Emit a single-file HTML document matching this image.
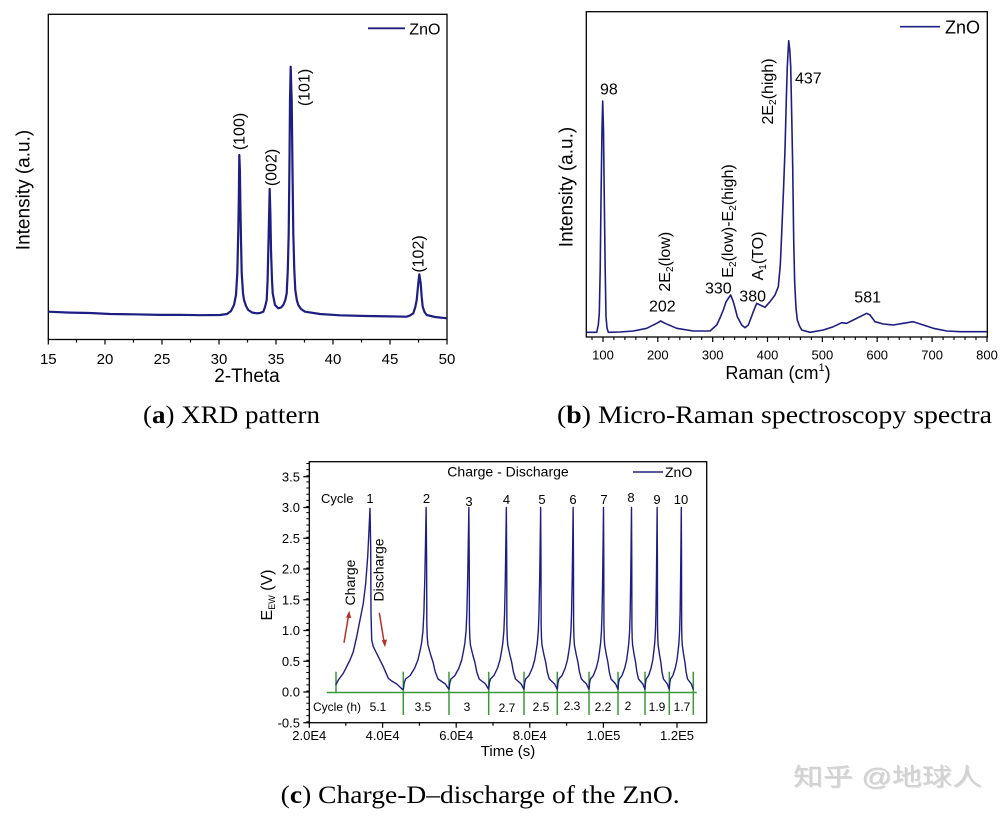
<!DOCTYPE html>
<html><head><meta charset="utf-8"><style>html,body{margin:0;padding:0;background:#fff}svg{display:block}</style></head>
<body>
<svg width="1008" height="818" viewBox="0 0 1008 818" xmlns="http://www.w3.org/2000/svg" font-family="'Liberation Sans', Arial, sans-serif" fill="#000">
<rect x="0" y="0" width="1008" height="818" fill="#fff"/>

<!-- ================= Panel A ================= -->
<rect x="48.3" y="14.3" width="398.7" height="325.2" fill="none" stroke="#000" stroke-width="1.3"/>
<path d="M48.3,339.5v5M105,339.5v5M162,339.5v5M219,339.5v5M276,339.5v5M333,339.5v5M390,339.5v5M447,339.5v5" stroke="#000" stroke-width="1.2"/>
<path d="M76.5,339.5v3M133.5,339.5v3M190.5,339.5v3M247.5,339.5v3M304.5,339.5v3M361.5,339.5v3M418.5,339.5v3" stroke="#000" stroke-width="1.2"/>
<g font-size="15" text-anchor="middle">
<text x="48.3" y="364">15</text><text x="105" y="364">20</text><text x="162" y="364">25</text><text x="219" y="364">30</text><text x="276" y="364">35</text><text x="333" y="364">40</text><text x="390" y="364">45</text><text x="447" y="364">50</text>
</g>
<text x="247" y="382" font-size="19" text-anchor="middle">2-Theta</text>
<text transform="translate(29.3,190) rotate(-90)" font-size="19" text-anchor="middle">Intensity (a.u.)</text>
<path d="M368,28.3H405" stroke="#202080" stroke-width="1.8"/>
<text x="409.3" y="34.3" font-size="16">ZnO</text>
<path fill="none" stroke="#1e1e82" stroke-width="2.2" stroke-linejoin="round" d="M48.3,311.7 L70,312.6 L90,313 L110,314 L133.3,314.3 L160,314.9 L180,314.8 L200,315.2 L220,315 L227,314 L231,311 L234,305 L236,295 L237.3,273 L238.3,230 L238.8,200 L239.3,155 L239.9,170 L240.3,200 L241,240 L241.7,273 L243,293 L244,300 L246,306 L248.3,310 L252,312.5 L256.7,313.3 L260,313 L263.3,311.7 L265,307 L266.7,300 L267.6,280 L268.3,250 L269.7,189 L270.4,215 L271,250 L272,280 L272.7,293.3 L275,305 L278.3,308.3 L281,307.5 L283.3,305 L285.3,300 L286.7,293.3 L287.8,270 L288.7,233.3 L289.5,160 L290,100 L290.7,66.7 L291.2,85 L291.7,100 L292.5,170 L293.3,233.3 L294.3,270 L295.3,290 L296.8,300 L298.3,305 L301,309 L305,311.7 L320,314 L340,315.3 L366.7,316 L390,316.4 L406.7,316.7 L410,315.5 L413.3,313.3 L415.3,307 L416.7,300 L418.3,283.3 L419.3,274.3 L420.7,283.3 L421.7,297 L422.7,306.7 L424.5,312 L426.7,315 L435,317 L447,318.3"/>
<g font-size="16" text-anchor="middle">
<text transform="translate(244.6,131.5) rotate(-90)">(100)</text>
<text transform="translate(276.6,167.5) rotate(-90)">(002)</text>
<text transform="translate(309.6,87.5) rotate(-90)">(101)</text>
<text transform="translate(423.6,254) rotate(-90)">(102)</text>
</g>

<!-- ================= Panel B ================= -->
<rect x="586.3" y="11.7" width="401" height="325.3" fill="none" stroke="#000" stroke-width="1.3"/>
<path d="M603,337v5M657.8,337v5M712.7,337v5M767.5,337v5M822.4,337v5M877.2,337v5M932.1,337v5M987,337v5" stroke="#000" stroke-width="1.2"/>
<path d="M592,337v3M613.9,337v3M624.9,337v3M635.9,337v3M646.8,337v3M668.8,337v3M679.8,337v3M690.7,337v3M701.7,337v3M723.6,337v3M734.6,337v3M745.6,337v3M756.6,337v3M778.5,337v3M789.5,337v3M800.4,337v3M811.4,337v3M833.4,337v3M844.3,337v3M855.3,337v3M866.3,337v3M888.2,337v3M899.2,337v3M910.2,337v3M921.1,337v3M943.1,337v3M954,337v3M965,337v3M976,337v3" stroke="#000" stroke-width="1.1"/>
<g font-size="13" text-anchor="middle">
<text x="603" y="359.5">100</text><text x="657.8" y="359.5">200</text><text x="712.7" y="359.5">300</text><text x="767.5" y="359.5">400</text><text x="822.4" y="359.5">500</text><text x="877.2" y="359.5">600</text><text x="932.1" y="359.5">700</text><text x="987" y="359.5">800</text>
</g>
<text x="778" y="379" font-size="18" text-anchor="middle">Raman (cm<tspan font-size="11" dy="-8">1</tspan><tspan dy="8">)</tspan></text>
<text transform="translate(572.7,187) rotate(-90)" font-size="19" text-anchor="middle">Intensity (a.u.)</text>
<path d="M900,26.7H940" stroke="#202080" stroke-width="1.6"/>
<text x="945" y="33.3" font-size="18">ZnO</text>
<path fill="none" stroke="#1e1e82" stroke-width="1.6" stroke-linejoin="round" d="M586.5,332.3 L596.7,332.3 L598.3,325 L599.3,313 L600.2,270 L601,200 L602,130 L602.7,101 L603.5,130 L604.3,200 L605.2,270 L606,316.7 L607,328 L608.3,332.3 L620,332 L633.3,331 L646.7,328.3 L656.7,323.3 L660.7,321 L665,323.3 L676.7,328.3 L693.3,331 L710,331 L716.7,325 L720,318 L723.3,310 L726,302 L728.3,298.3 L730.7,295 L733.3,301.7 L735.3,309 L737.3,316.7 L741.7,325 L745,327.7 L748.3,325 L751,318 L753.3,311.7 L756.7,303.3 L760,305 L765,307.3 L770,301.7 L775,295 L778.3,286.7 L780.3,265 L781.7,233.3 L783.5,190 L785,150 L786.3,100 L787.3,66.7 L788.7,40.7 L789.8,50 L790.7,66.7 L791.8,120 L792.7,166.7 L793.7,240 L794.7,283.3 L796,308 L797.3,320 L799.5,326 L801.7,330 L810,332.3 L823.3,330 L833.3,326.7 L841.7,322.7 L846.7,323.3 L853.3,320 L860,316.7 L866.7,313.3 L870,315 L875,321.7 L883.3,324 L893.3,325 L903.3,323.3 L913.3,321.7 L923.3,325 L933.3,328.3 L946.7,331 L960,331.7 L987,331.7"/>
<g font-size="16">
<text x="600" y="94.3">98</text>
<text x="795" y="83.3">437</text>
<text x="649" y="311.7">202</text>
<text x="705" y="293.3">330</text>
<text x="739.3" y="301.7">380</text>
<text x="854.3" y="302.7">581</text>
</g>
<g font-size="16" text-anchor="middle">
<text transform="translate(773,91.5) rotate(-90)">2E<tspan font-size="10" dy="3">2</tspan><tspan dy="-3">(high)</tspan></text>
<text transform="translate(670,261.7) rotate(-90)">2E<tspan font-size="10" dy="3">2</tspan><tspan dy="-3">(low)</tspan></text>
<text transform="translate(733,221) rotate(-90)">E<tspan font-size="10" dy="3">2</tspan><tspan dy="-3">(low)-E</tspan><tspan font-size="10" dy="3">2</tspan><tspan dy="-3">(high)</tspan></text>
<text transform="translate(763,256) rotate(-90)">A<tspan font-size="10" dy="3">1</tspan><tspan dy="-3">(TO)</tspan></text>
</g>

<!-- ================= Panel C ================= -->
<rect x="309.3" y="461.7" width="397.4" height="261" fill="none" stroke="#000" stroke-width="1.3"/>
<!-- y major ticks -->
<path d="M309.3,722.75h-6M309.3,692h-6M309.3,661.25h-6M309.3,630.5h-6M309.3,599.75h-6M309.3,569h-6M309.3,538.25h-6M309.3,507.5h-6M309.3,476.75h-6" stroke="#000" stroke-width="1.2"/>
<!-- y minor ticks via dash -->
<line x1="307.8" y1="722.25" x2="307.8" y2="462" stroke="#000" stroke-width="3" stroke-dasharray="1 5.15"/>
<!-- x ticks -->
<path d="M309.3,722.7v5M382.6,722.7v5M456.2,722.7v5M529.8,722.7v5M603.4,722.7v5M677,722.7v5" stroke="#000" stroke-width="1.2"/>
<path d="M345.8,722.7v3M419.4,722.7v3M493,722.7v3M566.6,722.7v3M640.2,722.7v3" stroke="#000" stroke-width="1.2"/>
<g font-size="13" text-anchor="end">
<text x="300" y="727.3">-0.5</text><text x="300" y="696.5">0.0</text><text x="300" y="665.8">0.5</text><text x="300" y="635">1.0</text><text x="300" y="604.3">1.5</text><text x="300" y="573.5">2.0</text><text x="300" y="542.8">2.5</text><text x="300" y="512">3.0</text><text x="300" y="481.3">3.5</text>
</g>
<g font-size="13" text-anchor="middle">
<text x="309.3" y="740">2.0E4</text><text x="382.6" y="740">4.0E4</text><text x="456.2" y="740">6.0E4</text><text x="529.8" y="740">8.0E4</text><text x="603.4" y="740">1.0E5</text><text x="677" y="740">1.2E5</text>
</g>
<text x="508" y="756" font-size="15" text-anchor="middle">Time (s)</text>
<text transform="translate(272,595) rotate(-90)" font-size="16" text-anchor="middle">E<tspan font-size="9" dy="3">EW</tspan><tspan dy="-3"> (V)</tspan></text>
<text x="508" y="476.5" font-size="14" text-anchor="middle">Charge - Discharge</text>
<path d="M633,472H663" stroke="#202080" stroke-width="1.4"/>
<text x="665" y="477" font-size="14">ZnO</text>

<!-- green lines -->
<g stroke="#3a9a3a" stroke-width="1.5">
<path d="M326.7,692.5H696.7"/>
<path d="M336,671.7V693.3M403.3,671.7V715M449,671.7V715M488.7,671.7V715M524,671.7V715M557.3,671.7V715M589,671.7V715M618,671.7V715M645,671.7V715M669.3,671.7V715M693.3,671.7V715"/>
</g>

<!-- cycle curves -->
<g fill="none" stroke="#1e1e82" stroke-width="1.4" stroke-linejoin="round">
<path d="M335.7,685 L338.3,680 L343.3,673.3 L350,660 L353.3,651.7 L356.7,636.7 L360,620 L363.3,603.3 L365.7,583.3 L367.7,556.7 L369,530 L370,508.3 L370.7,546.7 L371,613.3 L371.7,640 L373.3,646.7 L378.3,656.7 L383.3,666.7 L388.3,678.3 L391.7,681 L396.7,684 L402.3,689.3 L403.3,689.5"/>
<defs>
<path id="cyc" d="M0,689.5 L2,682.8 L5,679 L15,675.5 L25,668 L32,660 L37,650 L40,643 L43,631 L45,613 L47,580 L48.5,545 L50,507.5 L51,560 L51.5,625 L52.5,638 L54,645 L60,655 L65,662 L70,672 L76,679 L84,681.5 L92,684 L100,689.5"/>
</defs>
<use href="#cyc" transform="translate(403.3,0) scale(0.457,1)" vector-effect="non-scaling-stroke"/>
<use href="#cyc" transform="translate(449,0) scale(0.397,1)"/>
<use href="#cyc" transform="translate(488.7,0) scale(0.353,1)"/>
<use href="#cyc" transform="translate(524,0) scale(0.333,1)"/>
<use href="#cyc" transform="translate(557.3,0) scale(0.317,1)"/>
<use href="#cyc" transform="translate(589,0) scale(0.29,1)"/>
<use href="#cyc" transform="translate(618,0) scale(0.27,1)"/>
<use href="#cyc" transform="translate(645,0) scale(0.243,1)"/>
<use href="#cyc" transform="translate(669.3,0) scale(0.24,1)"/>
</g>
<style>#cyc{vector-effect:non-scaling-stroke}</style>

<!-- cycle labels -->
<text x="321" y="503" font-size="13">Cycle</text>
<g font-size="13" text-anchor="middle">
<text x="370" y="503">1</text><text x="426.5" y="503">2</text><text x="469" y="506">3</text><text x="506.5" y="504">4</text><text x="542" y="504">5</text><text x="573" y="504">6</text><text x="604" y="504">7</text><text x="631" y="502">8</text><text x="657" y="504">9</text><text x="681" y="504">10</text>
</g>
<text x="313" y="711" font-size="12">Cycle (h)</text>
<g font-size="12" text-anchor="middle">
<text x="378" y="711">5.1</text><text x="423" y="711">3.5</text><text x="467" y="711">3</text><text x="507" y="712">2.7</text><text x="541" y="711">2.5</text><text x="572" y="710">2.3</text><text x="603" y="711">2.2</text><text x="628" y="710">2</text><text x="657" y="711">1.9</text><text x="682" y="711">1.7</text>
</g>
<text transform="translate(355,582.5) rotate(-90)" font-size="14" text-anchor="middle">Charge</text>
<text transform="translate(383.5,570) rotate(-90)" font-size="14" text-anchor="middle">Discharge</text>
<!-- red arrows -->
<g stroke="#b8302c" stroke-width="1.5" fill="#b8302c">
<path d="M344,642.7L348.8,614"/>
<path d="M349.3,610.7L346,617.5L351.2,618.3Z" stroke="none"/>
<path d="M379.3,612.7L384.3,643.5"/>
<path d="M385,647.2L381.8,640.2L387,639.5Z" stroke="none"/>
</g>

<!-- captions -->
<g font-family="'Liberation Serif', 'Times New Roman', serif" font-size="25">
<text x="143" y="423" textLength="177" lengthAdjust="spacingAndGlyphs">(<tspan font-weight="bold">a</tspan>) XRD pattern</text>
<text x="557" y="423" textLength="435" lengthAdjust="spacingAndGlyphs">(<tspan font-weight="bold">b</tspan>) Micro-Raman spectroscopy spectra</text>
<text x="280.7" y="803" textLength="399" lengthAdjust="spacingAndGlyphs">(<tspan font-weight="bold">c</tspan>) Charge-D–discharge of the ZnO.</text>
</g>

<!-- watermark -->
<text x="794" y="786" font-size="24" fill="#9a9a9a" opacity="0.35" font-family="'Liberation Sans','Noto Sans CJK SC',sans-serif" textLength="189" lengthAdjust="spacingAndGlyphs">知乎 @地球人</text>
<text x="793" y="785" font-size="24" fill="#d2d2d2" font-family="'Liberation Sans','Noto Sans CJK SC',sans-serif" textLength="189" lengthAdjust="spacingAndGlyphs">知乎 @地球人</text>
</svg>
</body></html>
